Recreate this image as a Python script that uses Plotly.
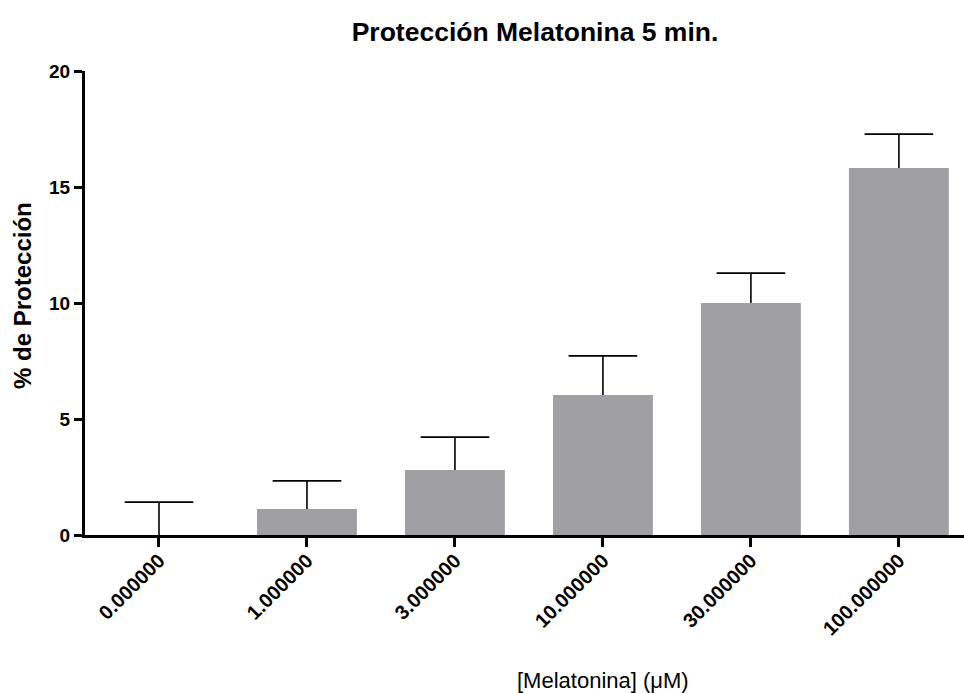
import plotly.graph_objects as go

categories = ["0.000000", "1.000000", "3.000000", "10.000000", "30.000000", "100.000000"]
values = [0.0, 1.12, 2.80, 6.03, 10.0, 15.82]
errors = [1.42, 1.21, 1.42, 1.69, 1.29, 1.46]
zeros = [0, 0, 0, 0, 0, 0]
y_ticks = [0, 5, 10, 15, 20]

FONT = "Liberation Sans, Arial, sans-serif"
xs = list(range(len(categories)))
tops = [v + e for v, e in zip(values, errors)]

fig = go.Figure()
fig.add_trace(go.Bar(
    x=xs,
    y=values,
    width=0.675,
    marker=dict(color="#A09FA4", line=dict(width=0)),
    error_y=dict(type="data", symmetric=False, array=errors, arrayminus=zeros,
                 color="black", thickness=1.6, width=0),
))
# caps at the top of the one-sided error bars
fig.add_trace(go.Scatter(
    x=xs, y=tops, mode="markers",
    marker=dict(symbol="line-ew-open", size=49, color="black", line=dict(width=1.8, color="black")),
    hoverinfo="skip",
))

fig.update_layout(
    width=964, height=693,
    margin=dict(l=85, r=0, t=71, b=158),
    paper_bgcolor="white", plot_bgcolor="white",
    showlegend=False,
    font=dict(family=FONT, color="black"),
    title=dict(text="<b>Protección Melatonina 5 min.</b>", x=535/964, xanchor="center",
               y=1 - 32/693, yanchor="middle", font=dict(size=26.5, family=FONT, color="black")),
    xaxis=dict(
        range=[-0.5, 5.44], tickmode="array",
        tickvals=xs, ticktext=["<b>%s</b>" % c for c in categories],
        tickangle=-45, showline=True, linecolor="black", linewidth=3,
        ticks="outside", ticklen=9, tickwidth=2.5, tickcolor="black",
        ticklabelstandoff=-6,
        showgrid=False, zeroline=False, tickfont=dict(size=20, family=FONT, color="black"),
    ),
    yaxis=dict(
        range=[0, 20], tickvals=y_ticks, ticktext=["<b>%d</b>" % t for t in y_ticks],
        showline=True, linecolor="black", linewidth=3,
        ticks="outside", ticklen=8, tickwidth=2.5, tickcolor="black",
        showgrid=False, zeroline=False, tickfont=dict(size=19, family=FONT, color="black"),
    ),
    annotations=[
        dict(
            text="[Melatonina] (μM)", xref="paper", yref="paper",
            x=(603 - 85) / (964 - 85), y=-(680 - 535) / (535 - 71),
            xanchor="center", yanchor="middle", showarrow=False,
            font=dict(size=22, family=FONT, color="black"),
        ),
        dict(
            text="<b>% de Protección</b>", xref="paper", yref="paper",
            x=(22 - 85) / (964 - 85), y=(535 - 296) / (535 - 71),
            xanchor="center", yanchor="middle", showarrow=False, textangle=-90,
            font=dict(size=24, family=FONT, color="black"),
        ),
    ],
)

fig.write_html("out.html")
